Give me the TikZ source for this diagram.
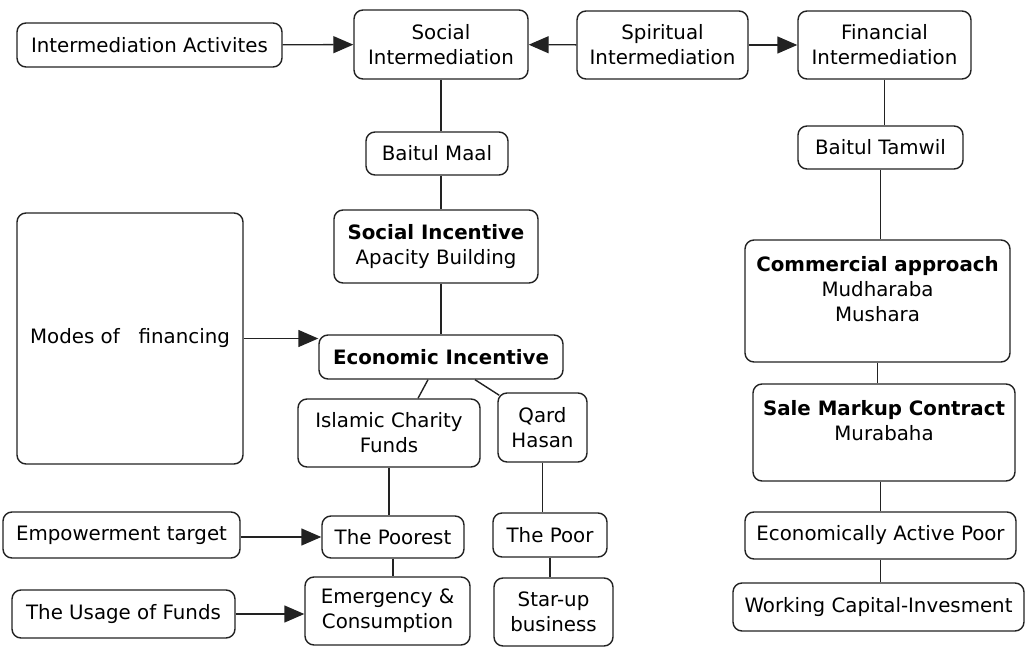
\documentclass[tikz,border=0pt]{standalone}
\usepackage{fontspec}
\setmainfont{DejaVu Sans}
\usetikzlibrary{arrows.meta,positioning}
\definecolor{ln}{HTML}{222222}
\tikzset{
  box/.style={draw=ln,line width=1.4pt,rounded corners=9pt,fill=white,align=center,inner sep=0pt,
    font=\fontsize{19.8}{25}\selectfont},
  ar/.style={-{Triangle[length=20pt,width=17pt]},line width=1.4pt,draw=ln},
  ln/.style={line width=1.4pt,draw=ln},
}

\begin{document}
\begin{tikzpicture}[x=1pt,y=-1pt]
  \useasboundingbox (0,0) rectangle (1028,647);
  % top row
  \node[box,minimum width=265pt,minimum height=44pt] (act) at (149.5,45) {Intermediation Activites};
  \node[box,minimum width=174pt,minimum height=69pt] (soc) at (441,44.5) {Social\\Intermediation};
  \node[box,minimum width=171pt,minimum height=68pt] (spi) at (662.5,45) {Spiritual\\Intermediation};
  \node[box,minimum width=173pt,minimum height=68pt] (fin) at (884.5,45) {Financial\\Intermediation};
  % social side
  \node[box,minimum width=142pt,minimum height=43pt] (bm) at (437,153.5) {Baitul Maal};
  \node[box,minimum width=204pt,minimum height=73pt] (si) at (436,246.5) {\textbf{Social Incentive}\\Apacity Building};
  \node[box,minimum width=226pt,minimum height=251pt] (mod) at (130,338.5) {Modes of\ \ \ financing};
  \node[box,minimum width=244pt,minimum height=44pt] (eco) at (441,357) {\textbf{Economic Incentive}};
  \node[box,minimum width=182pt,minimum height=68pt] (ic) at (389,433) {Islamic Charity\\Funds};
  \node[box,minimum width=89pt,minimum height=69pt] (qh) at (542.5,427.5) {Qard\\Hasan};
  \node[box,minimum width=237pt,minimum height=46pt] (emp) at (121.5,535) {Empowerment target};
  \node[box,minimum width=142pt,minimum height=42pt] (pst) at (393,537) {The Poorest};
  \node[box,minimum width=114pt,minimum height=44pt] (poor) at (550,535) {The Poor};
  \node[box,minimum width=223pt,minimum height=48pt] (use) at (123.5,614) {The Usage of Funds};
  \node[box,minimum width=165pt,minimum height=68pt] (emg) at (387.5,611) {Emergency \&\\Consumption};
  \node[box,minimum width=119pt,minimum height=68pt] (star) at (553.5,612) {Star-up\\business};
  % financial side
  \node[box,minimum width=165pt,minimum height=43pt] (bt) at (880.5,147.5) {Baitul Tamwil};
  \node[box,minimum width=265pt,minimum height=122pt] (com) at (877.5,301) {\textbf{Commercial approach}\\Mudharaba\\Mushara\\~};
  \node[box,minimum width=262pt,minimum height=97pt] (sale) at (884,432.5) {\textbf{Sale Markup Contract}\\Murabaha\\~};
  \node[box,minimum width=271pt,minimum height=47pt] (eap) at (880.5,535.5) {Economically Active Poor};
  \node[box,minimum width=291pt,minimum height=48pt] (wc) at (878.5,607) {Working Capital-Invesment};

  \draw[ar] (act) -- (soc);
  \draw[ar] (spi) -- (soc);
  \draw[ar] (spi) -- (fin);
  \draw[ln] (soc.south) -- (soc.south |- bm.north);
  \draw[ln] (bm.south -| soc.south) -- (si.north -| soc.south);
  \draw[ln] (si.south -| eco.north) -- (eco.north);
  \draw[ar] (mod.east) -- (mod.east -| eco.west);
  \draw[ln] ([xshift=-13pt]eco.south) -- ([xshift=29pt]ic.north);
  \draw[ln] ([xshift=34pt]eco.south) -- ([xshift=2pt,yshift=-3pt]qh.north west);
  \draw[ln] (ic.south) -- (ic.south |- pst.north);
  \draw[ln] (pst.south) -- (pst.south |- emg.north);
  \draw[ar] (emp.east |- pst.west) -- (pst.west);
  \draw[ar] (use.east) -- (use.east -| emg.west);
  \draw[ln] (qh.south) -- (qh.south |- poor.north);
  \draw[ln] (poor.south) -- (poor.south |- star.north);
  \draw[ln] (fin.south) -- (fin.south |- bt.north);
  \draw[ln] (bt.south) -- (bt.south |- com.north);
  \draw[ln] (com.south) -- (com.south |- sale.north);
  \draw[ln] (sale.south -| eap.north) -- (eap.north);
  \draw[ln] (eap.south) -- (eap.south |- wc.north);
\end{tikzpicture}
\end{document}
